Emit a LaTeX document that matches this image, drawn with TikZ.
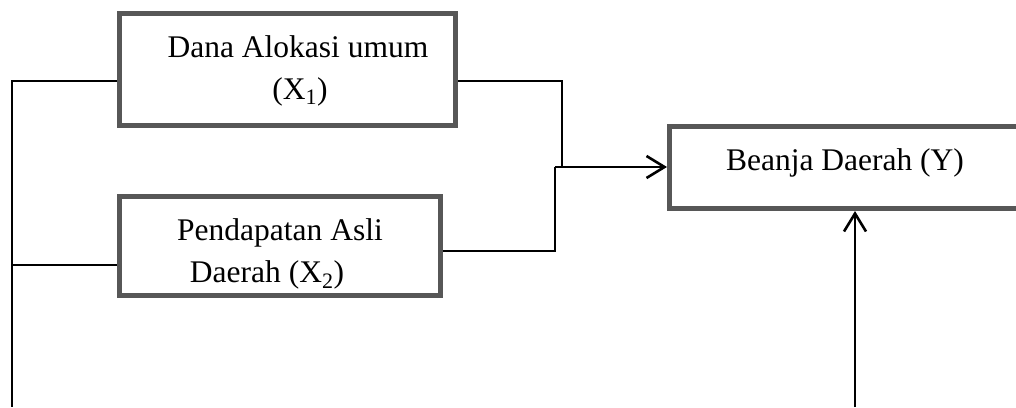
\documentclass[tikz,border=0pt]{standalone}
\usepackage{fontspec}
\setmainfont{Liberation Serif}
\usetikzlibrary{arrows.meta}
\definecolor{boxgray}{HTML}{575757}
\begin{document}
\begin{tikzpicture}[x=1pt,y=-1pt,
  box/.style={draw=boxgray,line width=5pt,fill=none,inner sep=0pt},
  lbl/.style={font=\fontsize{31.5}{38}\selectfont,inner sep=0pt,anchor=base},
  conn/.style={draw=black,line width=2.6pt},
  arr/.style={conn,-{Straight Barb[length=18pt,width=22pt,line width=2.6pt]}}]
\useasboundingbox (0,0) rectangle (1016,407);
% boxes
\node[box,minimum width=336pt,minimum height=112pt] (x1) at (287.5,69.5) {};
\node[box,minimum width=321pt,minimum height=99pt] (x2) at (280,246) {};
\node[box,minimum width=352pt,minimum height=82pt] (y) at (845.5,167.5) {};
% texts
\node[lbl] (x1a) at (298,57) {Dana Alokasi umum};
\node[lbl] (x1b) at (300,99) {(X\textsubscript{1})};
\node[lbl] (x2a) at (280,240) {Pendapatan Asli};
\node[lbl] (x2b) at (267,282) {Daerah (X\textsubscript{2})};
\node[lbl] (yt) at (845,170) {Beanja Daerah (Y)};
% coordinates
\coordinate (lt) at (12,81);
\coordinate (lm) at (12,265);
\coordinate (lb) at (12,407);
\coordinate (r1) at (562,81);
\coordinate (r2) at (555,251);
\coordinate (j) at (555,167);
\coordinate (bt) at (855,407);
% connectors
\draw[conn] (x1.west |- lt) -- (lt) -- (lb);
\draw[conn] (lm) -- (x2.west |- lm);
\draw[conn] (x1.east |- r1) -- (r1) -- (r1 |- j);
\draw[conn] (x2.east |- r2) -- (r2) -- (j);
\draw[arr] (j) -- (y.west |- j);
\draw[arr] (bt) -- (bt |- y.south);
\end{tikzpicture}
\end{document}
